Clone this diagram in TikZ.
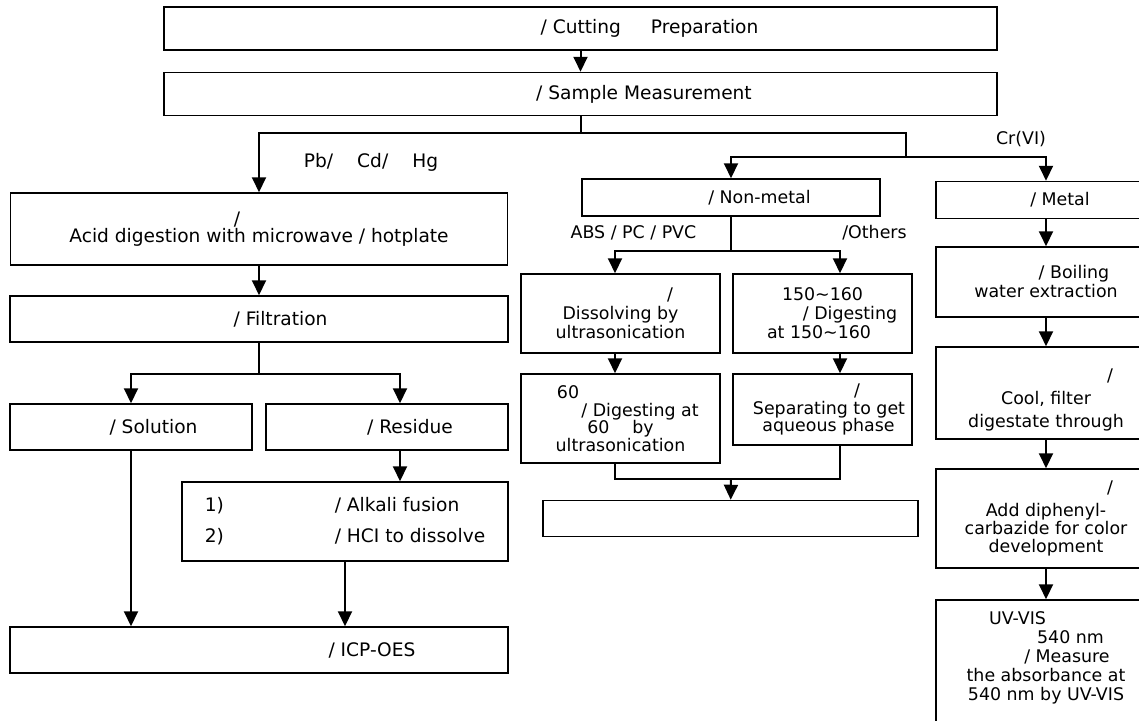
\documentclass[tikz,border=0pt]{standalone}
\usepackage{fontspec}
\setmainfont{DejaVu Sans}
\usepackage{tikz}
\usetikzlibrary{arrows.meta}
\usetikzlibrary{positioning}

\newcommand\bigtxt{\fontsize{18.6}{19}\selectfont}
\newcommand\smalltxt{\fontsize{17.4}{19}\selectfont}

\begin{document}
\begin{tikzpicture}[
      x=1pt, y=-1pt,
      box/.style ={rectangle, draw, line width=1.5pt, align=center, inner sep=2pt, font=\bigtxt},
      sbox/.style={box, font=\smalltxt},
      lbl/.style ={inner sep=0pt, font=\bigtxt},
      slbl/.style={inner sep=0pt, font=\smalltxt},
      arr/.style ={line width=2pt, -{Triangle[length=15pt,width=14pt]}},
      link/.style={line width=2pt}
    ]
    \useasboundingbox (0,0) rectangle (1139,720);
    \clip (0,0) rectangle (1139,720);

    % top
    \node [box, minimum width=833pt, minimum height=43pt] (cut) at (580.5,28.5) {\hspace*{138pt}/ Cutting\hspace{30pt}Preparation};
    \node [box, minimum width=833pt, minimum height=43pt] (sample) at (580.5,94) {\hspace*{127pt}/ Sample Measurement};

    % Pb / Cd / Hg
    \node [box, minimum width=497pt, minimum height=72pt] (acid) at (259,229) {/\hspace*{44pt}\\[-2pt] Acid digestion with microwave / hotplate};
    \node [box, minimum width=498pt, minimum height=46pt] (filt) at (259,319) {\hspace*{43pt}/ Filtration};
    \node [box, minimum width=242pt, minimum height=46pt] (sol) at (131,427) {\hspace*{45pt}/ Solution};
    \node [box, minimum width=242pt, minimum height=46pt] (res) at (387,427) {\hspace*{46pt}/ Residue};
    \node [box, minimum width=326pt, minimum height=79pt, align=left] (alk) at (345,521.5)
      {\makebox[130pt][l]{1)}/ Alkali fusion\\[12pt] \makebox[130pt][l]{2)}/ HCI to dissolve};
    \node [box, minimum width=498pt, minimum height=46pt] (icp) at (259,650) {\hspace*{226pt}/ ICP-OES};

    % non-metal
    \node [sbox, minimum width=298pt, minimum height=37pt] (nonm) at (731,197.5) {\hspace*{57pt}/ Non-metal};
    \node [sbox, minimum width=199pt, minimum height=79pt] (diss) at (620.5,313.5) {\hspace*{99pt}/\\ Dissolving by\\ ultrasonication};
    \node [sbox, minimum width=179pt, minimum height=79pt] (dig) at (822.5,313.5)
      {150\textasciitilde160\\ \hspace*{55pt}/ Digesting\\ at 150\textasciitilde160\hspace*{7pt}};
    \node [sbox, minimum width=199pt, minimum height=89pt] (sixty) at (620.5,418.5)
      {60\hspace*{105pt}\\[-1.5pt] \hspace*{39pt}/ Digesting at\\[-1.5pt] 60\hspace{23pt}by\\[-1.5pt] ultrasonication};
    \node [sbox, minimum width=179pt, minimum height=71pt] (sep) at (822.5,409.5)
      {\hspace*{69pt}/\\[-1.5pt] \hspace*{13pt}Separating to get\\[-1.5pt] \hspace*{12pt}aqueous phase};
    \node [sbox, minimum width=375pt, minimum height=36pt] (final) at (730.5,518.5) {};

    % metal
    \node [sbox, minimum width=220pt, minimum height=37pt] (metal) at (1046,200) {\hspace*{28pt}/ Metal};
    \node [sbox, minimum width=220pt, minimum height=70pt] (boil) at (1046,282) {\hspace*{56pt}/ Boiling\\ water extraction};
    \node [sbox, minimum width=220pt, minimum height=92pt] (cool) at (1046,393) {\rule{0pt}{26pt}\hspace*{128pt}/\\[4pt] Cool, filter\\[4pt] digestate through};
    \node [sbox, minimum width=220pt, minimum height=99pt] (add) at (1046,518.5)
      {\hspace*{128pt}/\\[4pt] Add diphenyl-\\[-1pt] carbazide for color\\[-1pt] development};
    \node [sbox, minimum width=220pt, minimum height=135pt] (uv) at (1046,667.5)
      {UV-VIS\hspace*{57pt}\\ \hspace*{49pt}540 nm\\ \hspace*{42pt}/ Measure\\ the absorbance at\\ 540 nm by UV-VIS\\[4pt]\mbox{}};

    % labels
    \node [lbl] (pbl) at (371,162) {Pb/\hspace{24pt}Cd/\hspace{24pt}Hg};
    \node [slbl] (absl) at (633.5,233) {ABS / PC / PVC};
    \node [slbl] (othl) at (874.5,233) {/Others};
    \node [slbl] (crl) at (1021,139) {Cr(VI)};

    \coordinate (s1) at (580.5,133);
    \coordinate (s2) at (906,157);
    \coordinate (s3) at (731,251);
    \coordinate (s4) at (731,479);
    \coordinate (s5) at (259,374);
    \coordinate (cA) at (615,0);
    \coordinate (cB) at (840,0);
    \coordinate (cR) at (400,0);

    \draw [arr] (cut) -- (sample);
    \draw [link] (sample) -- (s1) -| (s2);
    \draw [arr] (s1) -| (acid);
    \draw [arr] (s2) -| (nonm);
    \draw [arr] (s2) -| (metal);

    \draw [arr] (acid) -- (filt);
    \draw [link] (filt) -- (s5);
    \draw [arr] (s5) -| (sol);
    \draw [arr] (s5) -| (res.north -| cR);
    \draw [arr] (res.south -| cR) -- (alk.north -| cR);
    \draw [arr] (sol) -- (icp.north -| sol);
    \draw [arr] (alk) -- (icp.north -| alk);

    \draw [link] (nonm) -- (s3);
    \draw [arr] (s3) -| (diss.north -| cA);
    \draw [arr] (s3) -| (dig.north -| cB);
    \draw [arr] (diss.south -| cA) -- (sixty.north -| cA);
    \draw [arr] (dig.south -| cB) -- (sep.north -| cB);
    \draw [link] (sixty.south -| cA) |- (s4) -| (sep.south -| cB);
    \draw [arr] (s4) -- (final);

    \draw [arr] (metal) -- (boil);
    \draw [arr] (boil) -- (cool);
    \draw [arr] (cool) -- (add);
    \draw [arr] (add) -- (uv);
  \end{tikzpicture}
\end{document}
